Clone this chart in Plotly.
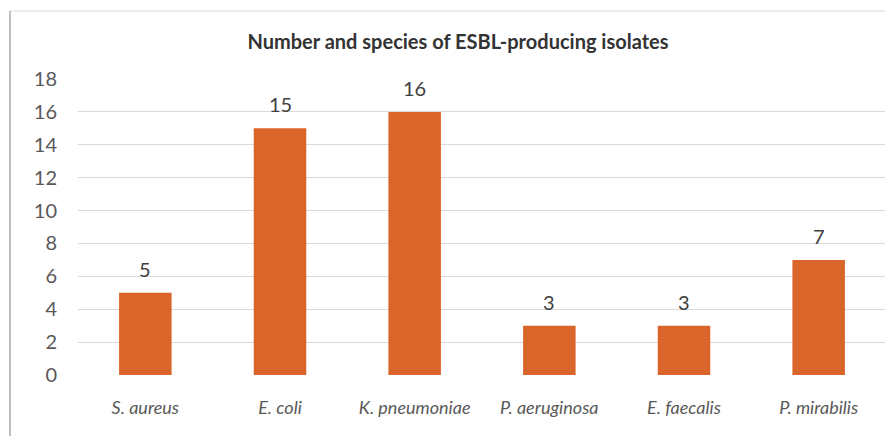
import plotly.graph_objects as go

categories = ["S. aureus", "E. coli", "K. pneumoniae", "P. aeruginosa", "E. faecalis", "P. mirabilis"]
counts = [5, 15, 16, 3, 3, 7]
y_ticks = [0, 2, 4, 6, 8, 10, 12, 14, 16, 18]
title_text = "Number and species of ESBL-producing isolates"

BAR = "#D9652A"
FONT = "Lato, sans-serif"

# page body has an 8px margin; figure sized to fit the window
W, H = 885, 428

fig = go.Figure(go.Bar(
    x=categories,
    y=counts,
    marker=dict(color=BAR, line=dict(width=0)),
    width=0.39,
    cliponaxis=False,
))

for c, v in zip(categories, counts):
    fig.add_annotation(x=c, y=v, text=str(v), showarrow=False, yanchor="bottom",
                       yshift=10, font=dict(family=FONT, size=20, color="#404040"))

pl, pt = 70, 71
pw, ph = 808, 296

fig.update_layout(
    width=W, height=H,
    margin=dict(l=pl, r=W - pl - pw, t=pt, b=H - pt - ph),
    paper_bgcolor="white",
    plot_bgcolor="white",
    showlegend=False,
    title=dict(text="<b>" + title_text + "</b>", x=450 / W, xanchor="center",
               y=1 - 34 / H, yanchor="middle", xref="container", yref="container",
               font=dict(family=FONT, size=20, color="#333333")),
    xaxis=dict(
        tickfont=dict(family=FONT, size=18, color="#595959", style="italic"),
        showgrid=False, showline=False, zeroline=False, ticks="",
        ticklabelstandoff=20,
    ),
    yaxis=dict(
        range=[0, 18], tickvals=y_ticks, showgrid=True, gridcolor="#D9D9D9", gridwidth=1,
        zeroline=False, showline=False, ticks="",
        tickfont=dict(family=FONT, size=20, color="#595959"),
        ticklabelstandoff=20,
    ),
    shapes=[
        dict(type="line", xref="paper", yref="paper", x0=-68 / pw, x1=1.02, y0=1 + 68 / ph, y1=1 + 68 / ph,
             line=dict(color="#D9D9D9", width=1)),
        dict(type="line", xref="paper", yref="paper", x0=-68 / pw, x1=-68 / pw, y0=1 + 68 / ph, y1=-0.3,
             line=dict(color="#BFBFBF", width=2)),
    ],
)

fig.write_html("out.html")
